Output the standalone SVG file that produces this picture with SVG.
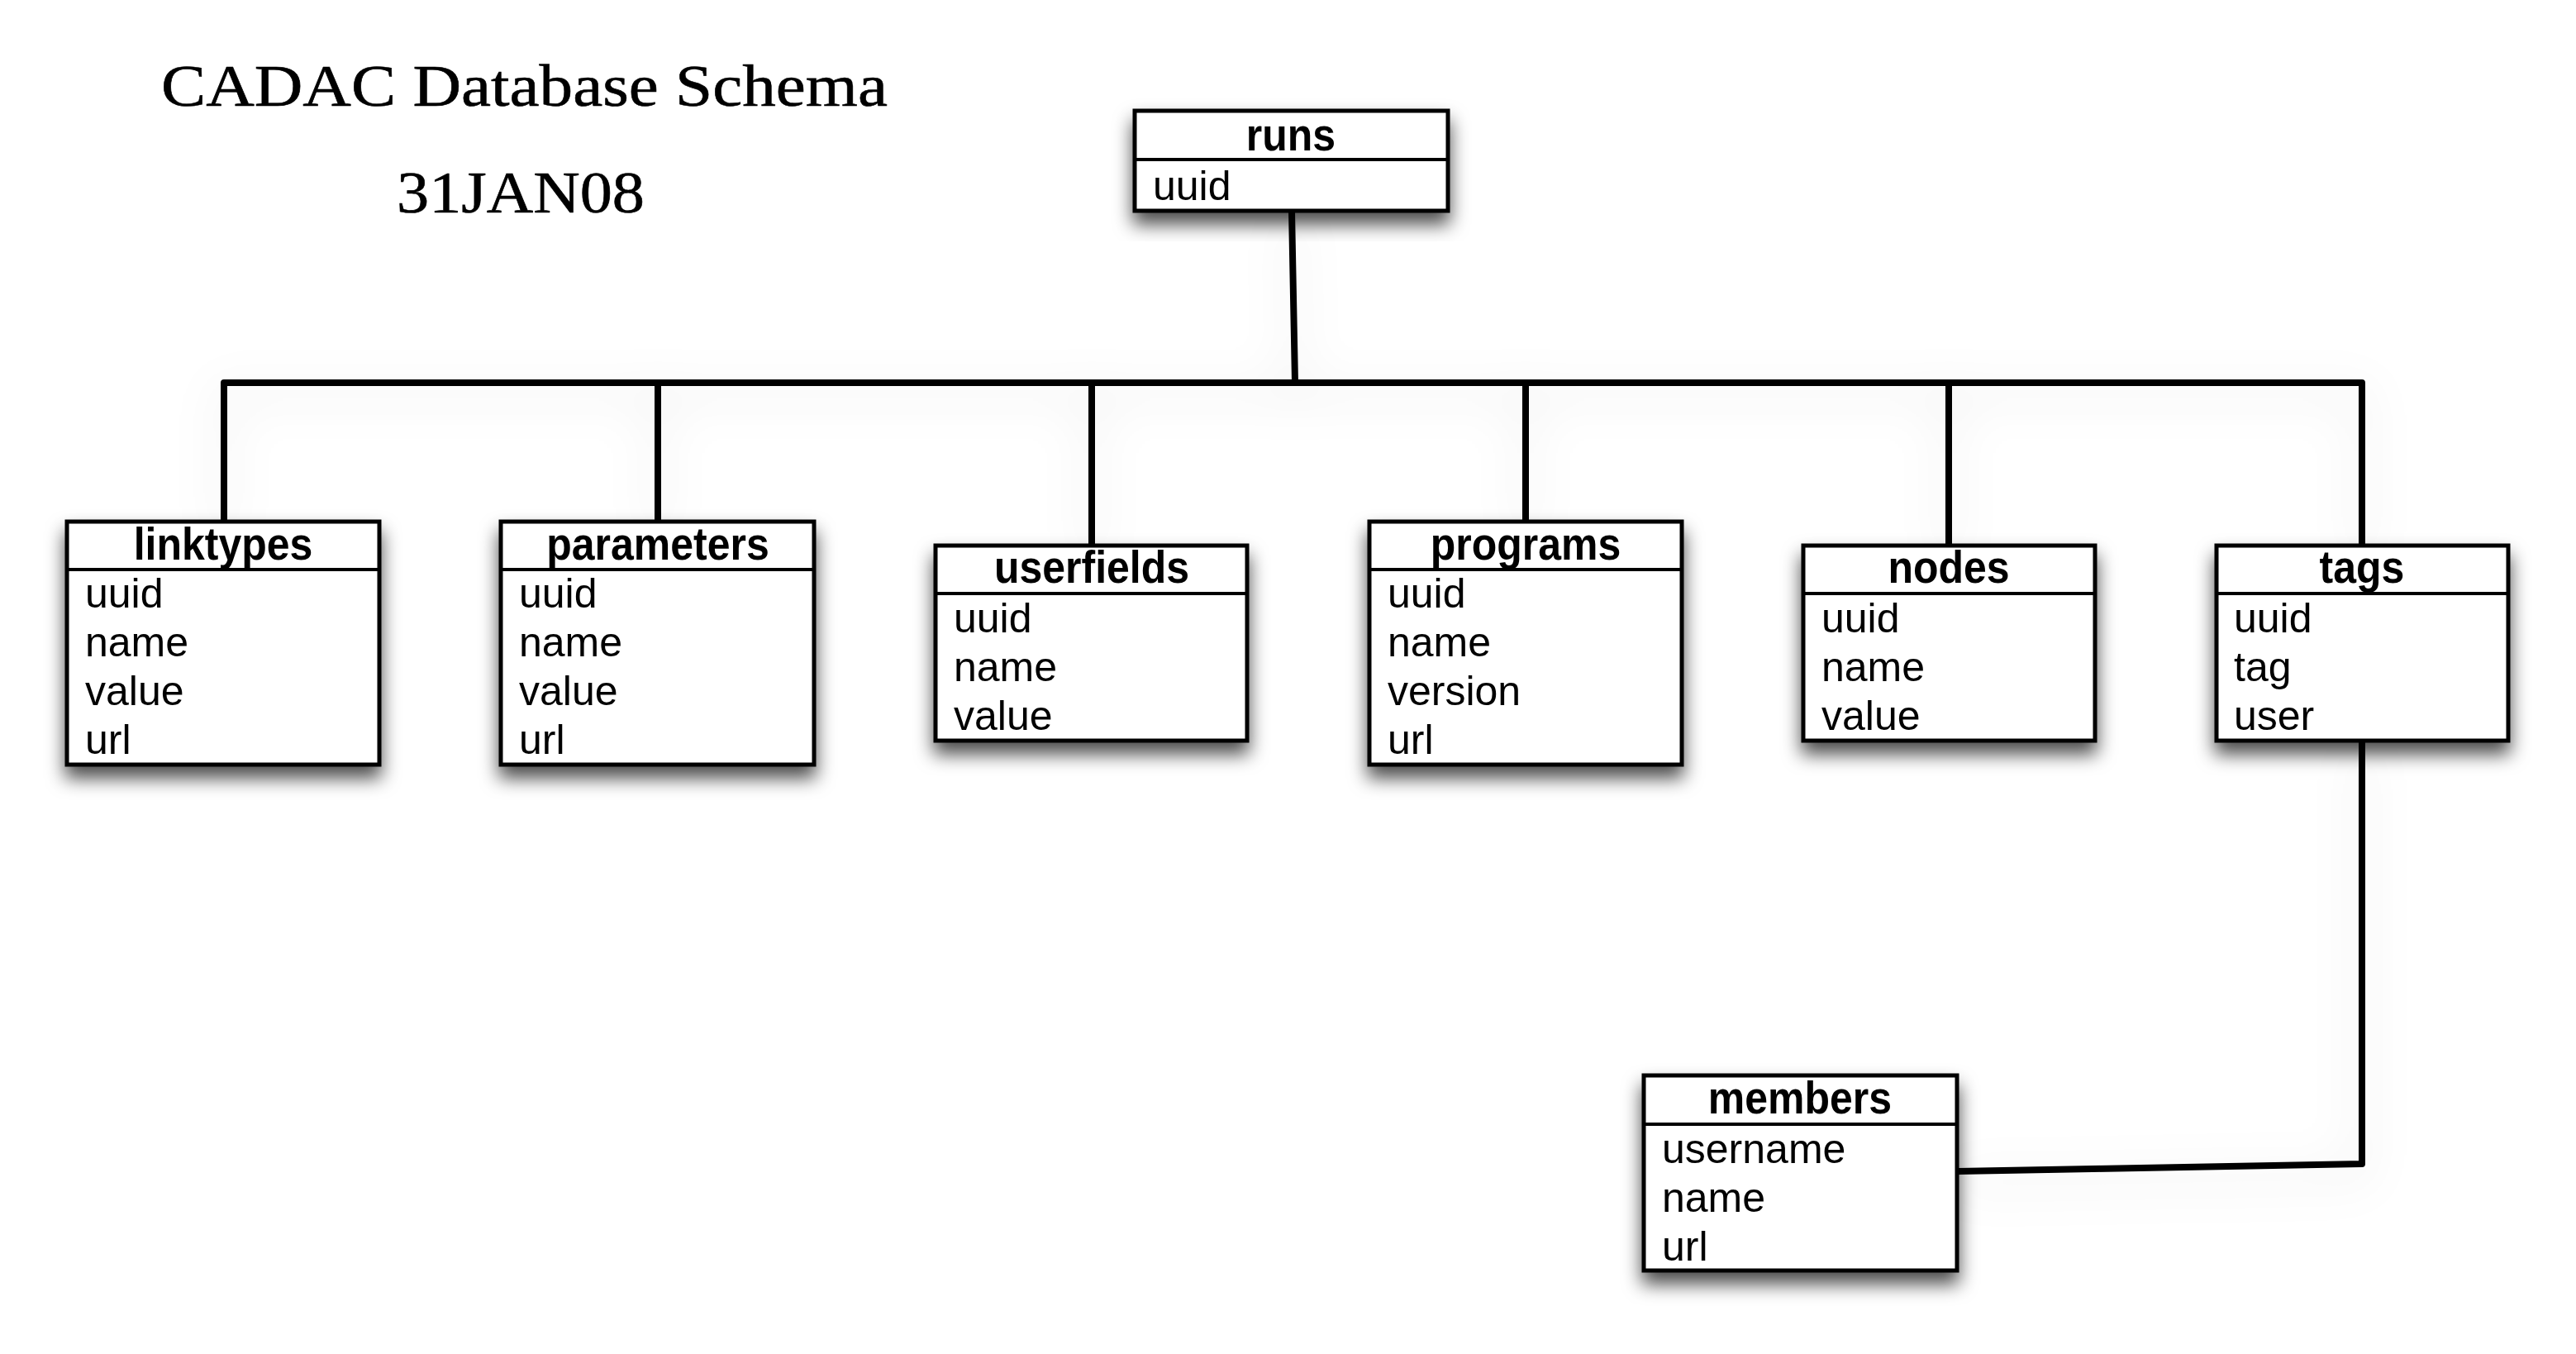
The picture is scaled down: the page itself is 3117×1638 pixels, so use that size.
<svg xmlns="http://www.w3.org/2000/svg" width="3117" height="1638" viewBox="0 0 3117 1638">
<defs>
<filter id="boxShadow" x="-20%" y="-20%" width="140%" height="150%">
<feDropShadow dx="0" dy="14" stdDeviation="11" flood-color="#000" flood-opacity="0.7"/>
</filter>
<filter id="lineShadow" x="-20%" y="-20%" width="140%" height="160%">
<feDropShadow dx="0" dy="14" stdDeviation="28" flood-color="#000" flood-opacity="0.12"/>
</filter>
<style>
.box{fill:#fff;stroke:#000;stroke-width:5}
.sep{stroke:#000;stroke-width:4}
.hdr{font-family:"Liberation Sans",Arial,sans-serif;font-weight:bold;font-size:50px;text-anchor:middle;fill:#000}
.fld{font-family:"Liberation Sans",Arial,sans-serif;font-size:50px;fill:#000}
.conn{fill:none;stroke:#000;stroke-width:8;stroke-linecap:round;stroke-linejoin:round}
.title{font-family:"Liberation Serif","Times New Roman",serif;font-size:71px;fill:#000;stroke:#000;stroke-width:0.6}
</style>
</defs>
<rect width="3117" height="1638" fill="#fff"/>

<g id="title">
<text class="title" x="195" y="128" textLength="879" lengthAdjust="spacingAndGlyphs">CADAC Database Schema</text>
<text class="title" x="480" y="257" textLength="300" lengthAdjust="spacingAndGlyphs">31JAN08</text>
</g>

<g id="connectors" filter="url(#lineShadow)">
<path class="conn" d="M1563 255 L1567 463"/>
<path class="conn" d="M271 631 L271 463 L2858 463 L2858 660"/>
<path class="conn" d="M796 463 L796 631"/>
<path class="conn" d="M1321 463 L1321 660"/>
<path class="conn" d="M1846 463 L1846 631"/>
<path class="conn" d="M2358 463 L2358 660"/>
<path class="conn" d="M2858 897 L2858 1408 L2369 1417"/>
</g>

<g id="runs">
<rect class="box" x="1373" y="134" width="379" height="121" filter="url(#boxShadow)"/>
<line class="sep" x1="1373" y1="193" x2="1752" y2="193"/>
<text class="hdr" x="1562" y="182" transform="matrix(1 0 0 1.1 0 -18.2)">runs</text>
<text class="fld" x="1395" y="242">uuid</text>
</g>

<g id="linktypes">
<rect class="box" x="81" y="631" width="378" height="294" filter="url(#boxShadow)"/>
<line class="sep" x1="81" y1="689" x2="459" y2="689"/>
<text class="hdr" x="270" y="677" transform="matrix(1 0 0 1.1 0 -67.7)">linktypes</text>
<text class="fld" x="103" y="735">uuid</text>
<text class="fld" x="103" y="794">name</text>
<text class="fld" x="103" y="853">value</text>
<text class="fld" x="103" y="912">url</text>
</g>

<g id="parameters">
<rect class="box" x="606" y="631" width="379" height="294" filter="url(#boxShadow)"/>
<line class="sep" x1="606" y1="689" x2="985" y2="689"/>
<text class="hdr" x="796" y="677" transform="matrix(1 0 0 1.1 0 -67.7)">parameters</text>
<text class="fld" x="628" y="735">uuid</text>
<text class="fld" x="628" y="794">name</text>
<text class="fld" x="628" y="853">value</text>
<text class="fld" x="628" y="912">url</text>
</g>

<g id="userfields">
<rect class="box" x="1132" y="660" width="377" height="236" filter="url(#boxShadow)"/>
<line class="sep" x1="1132" y1="718" x2="1509" y2="718"/>
<text class="hdr" x="1321" y="705" transform="matrix(1 0 0 1.1 0 -70.5)">userfields</text>
<text class="fld" x="1154" y="765">uuid</text>
<text class="fld" x="1154" y="824">name</text>
<text class="fld" x="1154" y="883">value</text>
</g>

<g id="programs">
<rect class="box" x="1657" y="631" width="378" height="294" filter="url(#boxShadow)"/>
<line class="sep" x1="1657" y1="689" x2="2035" y2="689"/>
<text class="hdr" x="1846" y="677" transform="matrix(1 0 0 1.1 0 -67.7)">programs</text>
<text class="fld" x="1679" y="735">uuid</text>
<text class="fld" x="1679" y="794">name</text>
<text class="fld" x="1679" y="853">version</text>
<text class="fld" x="1679" y="912">url</text>
</g>

<g id="nodes">
<rect class="box" x="2182" y="660" width="353" height="236" filter="url(#boxShadow)"/>
<line class="sep" x1="2182" y1="718" x2="2535" y2="718"/>
<text class="hdr" x="2358" y="705" transform="matrix(1 0 0 1.1 0 -70.5)">nodes</text>
<text class="fld" x="2204" y="765">uuid</text>
<text class="fld" x="2204" y="824">name</text>
<text class="fld" x="2204" y="883">value</text>
</g>

<g id="tags">
<rect class="box" x="2682" y="660" width="353" height="236" filter="url(#boxShadow)"/>
<line class="sep" x1="2682" y1="718" x2="3035" y2="718"/>
<text class="hdr" x="2858" y="705" transform="matrix(1 0 0 1.1 0 -70.5)">tags</text>
<text class="fld" x="2703" y="765">uuid</text>
<text class="fld" x="2703" y="824">tag</text>
<text class="fld" x="2703" y="883">user</text>
</g>

<g id="members">
<rect class="box" x="1989" y="1301" width="379" height="236" filter="url(#boxShadow)"/>
<line class="sep" x1="1989" y1="1360" x2="2368" y2="1360"/>
<text class="hdr" x="2178" y="1347" transform="matrix(1 0 0 1.1 0 -134.7)">members</text>
<text class="fld" x="2011" y="1407">username</text>
<text class="fld" x="2011" y="1466">name</text>
<text class="fld" x="2011" y="1525">url</text>
</g>
</svg>
